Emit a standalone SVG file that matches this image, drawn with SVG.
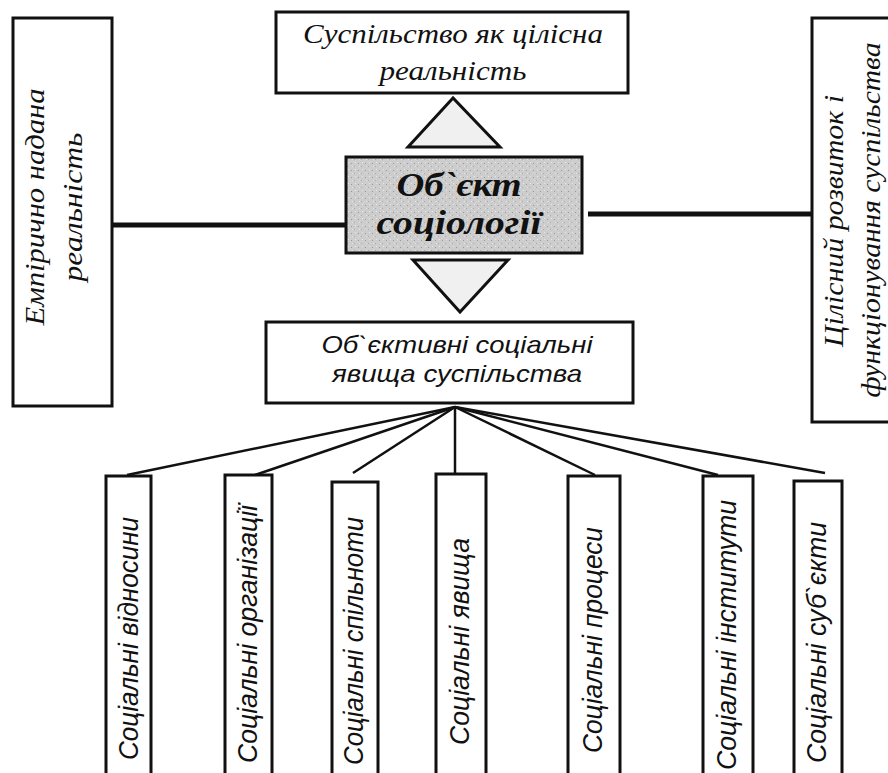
<svg xmlns="http://www.w3.org/2000/svg" width="888" height="773" viewBox="0 0 888 773">
<style>
.box{fill:#fff;stroke:#111;stroke-width:3}
.tri{fill:#f0f0f0;stroke:#111;stroke-width:3;stroke-linejoin:miter}
.conn{stroke:#111;fill:none}
.serif{font-family:"Liberation Serif","DejaVu Serif",serif;font-style:italic;fill:#111}
.sans{font-family:"Liberation Sans","DejaVu Sans",sans-serif;font-style:italic;fill:#111}
</style>
<defs>
<pattern id="stip" width="7" height="7" patternUnits="userSpaceOnUse">
<rect width="7" height="7" fill="#cdcdcd"/>
<rect x="1" y="2" width="1" height="1" fill="#999"/>
<rect x="4" y="5" width="1" height="1" fill="#aaa"/>
<rect x="5" y="1" width="1" height="1" fill="#e8e8e8"/>
<rect x="2" y="5" width="1" height="1" fill="#e4e4e4"/>
</pattern>
</defs>
<g id="connectors">
<line class="conn" x1="112" y1="225" x2="346" y2="225" stroke-width="5"/>
<line class="conn" x1="588" y1="214" x2="813" y2="214" stroke-width="5"/>
<g stroke-width="2.5">
<line class="conn" x1="455" y1="407" x2="127" y2="475"/>
<line class="conn" x1="455" y1="407" x2="255" y2="475"/>
<line class="conn" x1="455" y1="407" x2="353" y2="473"/>
<line class="conn" x1="455" y1="407" x2="455" y2="474"/>
<line class="conn" x1="455" y1="407" x2="595" y2="475"/>
<line class="conn" x1="455" y1="407" x2="718" y2="475"/>
<line class="conn" x1="455" y1="407" x2="825" y2="473"/>
</g>
<polygon id="tri-up" class="tri" points="453,98 408,147 500,147"/>
<polygon id="tri-down" class="tri" points="413,260 508,260 460,312"/>
</g>
<g id="node-top">
<rect class="box" x="276" y="12" width="352" height="81"/>
<text class="serif" x="453" y="43" font-size="27" text-anchor="middle" textLength="300" lengthAdjust="spacingAndGlyphs">Суспільство як цілісна</text>
<text class="serif" x="453" y="80" font-size="27" text-anchor="middle" textLength="147" lengthAdjust="spacingAndGlyphs">реальність</text>
</g>
<g id="node-center">
<rect x="346" y="157" width="236" height="96" fill="url(#stip)" stroke="#111" stroke-width="3"/>
<text class="serif" x="459" y="196" font-size="34" font-weight="bold" text-anchor="middle" textLength="125" lengthAdjust="spacingAndGlyphs">Об`єкт</text>
<text class="serif" x="459" y="234" font-size="34" font-weight="bold" text-anchor="middle" textLength="165" lengthAdjust="spacingAndGlyphs">соціології</text>
</g>
<g id="node-left">
<rect class="box" x="13" y="18" width="99" height="388"/>
<text class="serif" transform="translate(44,207) rotate(-90)" font-size="27" text-anchor="middle" textLength="237" lengthAdjust="spacingAndGlyphs">Емпірично надана</text>
<text class="serif" transform="translate(82,207) rotate(-90)" font-size="27" text-anchor="middle" textLength="149" lengthAdjust="spacingAndGlyphs">реальність</text>
</g>
<g id="node-right">
<rect class="box" x="812" y="18" width="90" height="404"/>
<text class="serif" transform="translate(843,221) rotate(-90)" font-size="27" text-anchor="middle" textLength="252" lengthAdjust="spacingAndGlyphs">Цілісний розвиток і</text>
<text class="serif" transform="translate(880,220) rotate(-90)" font-size="27" text-anchor="middle" textLength="355" lengthAdjust="spacingAndGlyphs">функціонування суспільства</text>
</g>
<g id="node-middle">
<rect class="box" x="266" y="322" width="367" height="81"/>
<text class="sans" x="457" y="353" font-size="24" text-anchor="middle" textLength="271" lengthAdjust="spacingAndGlyphs">Об`єктивні соціальні</text>
<text class="sans" x="457" y="382" font-size="24" text-anchor="middle" textLength="250" lengthAdjust="spacingAndGlyphs">явища суспільства</text>
</g>
<g id="node-b1">
<rect class="box" x="106" y="476" width="45" height="310"/>
<text class="sans" transform="translate(138,760) rotate(-90)" font-size="28" textLength="243" lengthAdjust="spacingAndGlyphs">Соціальні відносини</text>
</g>
<g id="node-b2">
<rect class="box" x="225" y="475" width="47" height="311"/>
<text class="sans" transform="translate(257,763) rotate(-90)" font-size="28" textLength="258" lengthAdjust="spacingAndGlyphs">Соціальні організації</text>
</g>
<g id="node-b3">
<rect class="box" x="332" y="482" width="46" height="304"/>
<text class="sans" transform="translate(363,765) rotate(-90)" font-size="28" textLength="248" lengthAdjust="spacingAndGlyphs">Соціальні спільноти</text>
</g>
<g id="node-b4">
<rect class="box" x="436" y="474" width="50" height="312"/>
<text class="sans" transform="translate(469,745) rotate(-90)" font-size="28" textLength="207" lengthAdjust="spacingAndGlyphs">Соціальні явища</text>
</g>
<g id="node-b5">
<rect class="box" x="568" y="476" width="52" height="310"/>
<text class="sans" transform="translate(602,753) rotate(-90)" font-size="28" textLength="226" lengthAdjust="spacingAndGlyphs">Соціальні процеси</text>
</g>
<g id="node-b6">
<rect class="box" x="703" y="476" width="50" height="310"/>
<text class="sans" transform="translate(736,770) rotate(-90)" font-size="28" textLength="270" lengthAdjust="spacingAndGlyphs">Соціальні інститути</text>
</g>
<g id="node-b7">
<rect class="box" x="794" y="481" width="48" height="305"/>
<text class="sans" transform="translate(826,763) rotate(-90)" font-size="28" textLength="241" lengthAdjust="spacingAndGlyphs">Соціальні суб`єкти</text>
</g>
</svg>
